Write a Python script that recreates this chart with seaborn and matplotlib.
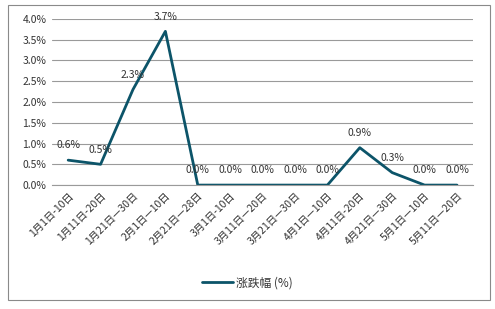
import matplotlib
matplotlib.use("Agg")
import matplotlib.pyplot as plt
import seaborn as sns
import pandas as pd
from matplotlib.patches import Rectangle

categories = ["1月1日-10日", "1月11日-20日", "1月21日—30日", "2月1日—10日", "2月21日—28日",
              "3月1日-10日", "3月11日—20日", "3月21日—30日", "4月1日—10日", "4月11日-20日",
              "4月21日—30日", "5月1日—10日", "5月11日—20日"]
values = [0.6, 0.5, 2.3, 3.7, 0.0, 0.0, 0.0, 0.0, 0.0, 0.9, 0.3, 0.0, 0.0]
series_name = "涨跌幅 (%)"
yticks = [0.0, 0.5, 1.0, 1.5, 2.0, 2.5, 3.0, 3.5, 4.0]

sns.set_style("white")
plt.rcParams['font.family'] = ['Noto Sans CJK SC', 'DejaVu Sans']

df = pd.DataFrame({"x": range(len(categories)), "v": values, "s": series_name})

fig = plt.figure(figsize=(4.95, 3.09), dpi=100)
ax = fig.add_axes([0.105, 0.401, 0.851, 0.538])
color = "#0c5469"
sns.lineplot(data=df, x="x", y="v", hue="s", palette=[color], linewidth=2.0, ax=ax)

ax.set_xlim(-0.5, len(categories) - 0.5)
ax.set_ylim(0, 4.0)
ax.set_yticks(yticks)
ax.set_yticklabels([f"{t:.1f}%" for t in yticks], fontsize=7.5, color="#333333")
ax.set_xticks(range(len(categories)))
ax.set_xticklabels(categories, rotation=45, ha="right", va="top", rotation_mode="anchor",
                   fontsize=7.5, color="#333333")
ax.tick_params(axis="both", length=0, pad=4)
ax.grid(axis="y", color="#9a9a9a", linewidth=0.8)
ax.set_axisbelow(True)
for sp in ["top", "right", "left"]:
    ax.spines[sp].set_visible(False)
ax.spines["bottom"].set_color("#9a9a9a")
ax.spines["bottom"].set_linewidth(0.8)
ax.set_xlabel("")
ax.set_ylabel("")

for i, v in enumerate(values):
    ax.annotate(f"{v:.1f}%", (i, v), xytext=(0, 7), textcoords="offset points",
                ha="center", va="bottom", fontsize=7.5, color="#333333")

leg = ax.legend(loc="center", bbox_to_anchor=(0.5, 0.085), bbox_transform=fig.transFigure,
                frameon=False, fontsize=8.5, handlelength=2.6, handletextpad=0.3)
for t in leg.get_texts():
    t.set_color("#333333")

fig.patches.append(Rectangle((8 / 495, 1 - 300 / 309), 482 / 495, 295 / 309,
                             transform=fig.transFigure, fill=False, edgecolor="#8a8a8a",
                             linewidth=0.8))

fig.savefig("out.png", dpi=100)
